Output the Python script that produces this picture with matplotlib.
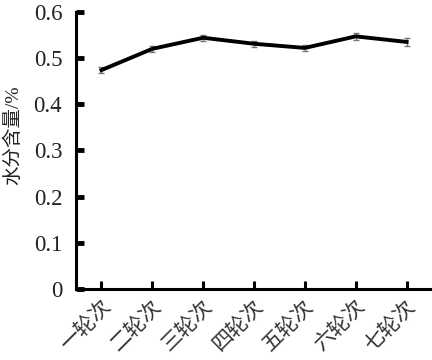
import matplotlib
matplotlib.use("Agg")
import matplotlib.pyplot as plt

plt.rcParams['font.family'] = ['Liberation Serif', 'Noto Sans CJK SC']

# data
rounds = ['一轮次', '二轮次', '三轮次', '四轮次', '五轮次', '六轮次', '七轮次']
water = [0.474, 0.520, 0.544, 0.531, 0.522, 0.547, 0.535]
err = [0.007, 0.007, 0.007, 0.007, 0.007, 0.008, 0.008]
yticks = [0, 0.1, 0.2, 0.3, 0.4, 0.5, 0.6]

fig = plt.figure(figsize=(4.32, 3.6), dpi=100)
ax = fig.add_axes([0.176, 0.197, 0.824, 0.77])

x = list(range(len(rounds)))
ax.errorbar(x, water, yerr=err, color='black', lw=2.8,
            ecolor='#777777', elinewidth=1.0, capsize=2.5, capthick=1.0, zorder=3)

ax.set_xlim(-0.5, 6.5)
ax.set_ylim(0, 0.6)
ax.set_yticks(yticks)
ax.set_yticklabels(['0', '0.1', '0.2', '0.3', '0.4', '0.5', '0.6'], fontsize=16.5,
                   color='#222222')
ax.set_xticks(x)
ax.set_xticklabels(rounds, rotation=45, ha='right', rotation_mode='anchor',
                   fontsize=15, color='#333333')

for s in ['top', 'right']:
    ax.spines[s].set_visible(False)
for s in ['left', 'bottom']:
    ax.spines[s].set_linewidth(2.2)
ax.spines['left'].set_bounds(0, 0.6)

ax.tick_params(axis='y', direction='in', length=6, width=3.5, pad=10)
ax.tick_params(axis='x', direction='in', length=6, width=2.2, pad=6)

ax.set_ylabel('水分含量/%', fontsize=14, color='#222222')
ax.yaxis.set_label_coords(-0.15, 0.556)

fig.savefig('out.png', dpi=100)
